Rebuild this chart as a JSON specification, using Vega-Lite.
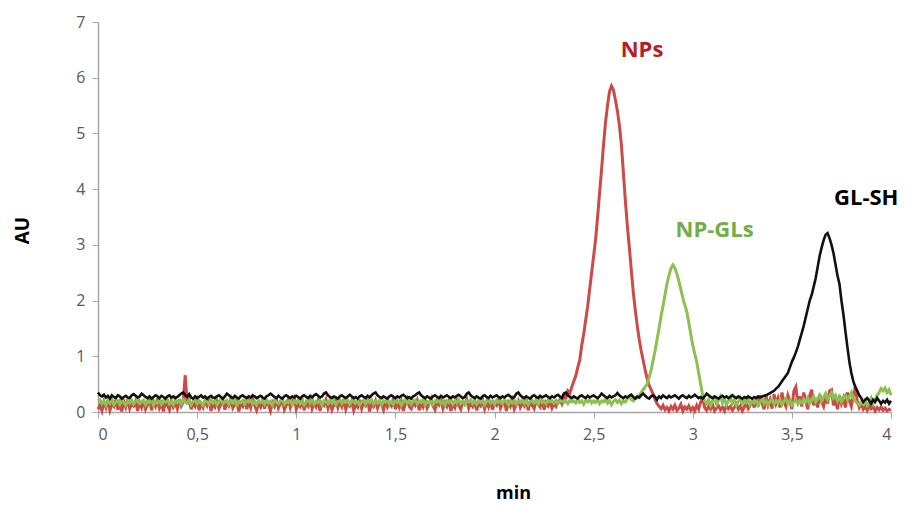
{
"$schema":"https://vega.github.io/schema/vega-lite/v6.json",
"width":793,"height":390,
"autosize":{"type":"none"},
"padding":{"left":98,"top":22,"right":23,"bottom":94},
"background":"white",
"config":{"view":{"stroke":null},"font":"Open Sans"},
"datasets":{
"trace":[
{"t":0.00,"r":0.05,"g":0.2,"k":0.35},{"t":0.01,"r":0.12,"g":0.22,"k":0.3},{"t":0.02,"r":0.02,"g":0.15,"k":0.28},{"t":0.03,"r":0.18,"g":0.19,"k":0.31},{"t":0.04,"r":0.08,"g":0.12,"k":0.26},{"t":0.05,"r":0.21,"g":0.21,"k":0.29},{"t":0.06,"r":0.03,"g":0.16,"k":0.24},{"t":0.07,"r":0.14,"g":0.23,"k":0.3},{"t":0.08,"r":0.1,"g":0.13,"k":0.27},{"t":0.09,"r":0.22,"g":0.18,"k":0.25},
{"t":0.10,"r":0.04,"g":0.2,"k":0.3},{"t":0.11,"r":0.16,"g":0.14,"k":0.28},{"t":0.12,"r":0.01,"g":0.22,"k":0.24},{"t":0.13,"r":0.19,"g":0.17,"k":0.27},{"t":0.14,"r":0.09,"g":0.12,"k":0.29},{"t":0.15,"r":0.23,"g":0.2,"k":0.26},{"t":0.16,"r":0.06,"g":0.16,"k":0.25},{"t":0.17,"r":0.15,"g":0.21,"k":0.3},{"t":0.18,"r":0.11,"g":0.14,"k":0.32},{"t":0.19,"r":0.2,"g":0.19,"k":0.29},
{"t":0.20,"r":0.02,"g":0.23,"k":0.26},{"t":0.21,"r":0.17,"g":0.15,"k":0.28},{"t":0.22,"r":0.08,"g":0.18,"k":0.33},{"t":0.23,"r":0.21,"g":0.21,"k":0.3},{"t":0.24,"r":0.05,"g":0.13,"k":0.27},{"t":0.25,"r":0.13,"g":0.2,"k":0.25},{"t":0.26,"r":0.24,"g":0.17,"k":0.28},{"t":0.27,"r":0.03,"g":0.22,"k":0.24},{"t":0.28,"r":0.18,"g":0.12,"k":0.27},{"t":0.29,"r":0.1,"g":0.19,"k":0.3},
{"t":0.30,"r":0.22,"g":0.16,"k":0.28},{"t":0.31,"r":0.07,"g":0.21,"k":0.25},{"t":0.32,"r":0.15,"g":0.14,"k":0.29},{"t":0.33,"r":0.01,"g":0.2,"k":0.27},{"t":0.34,"r":0.19,"g":0.18,"k":0.24},{"t":0.35,"r":0.12,"g":0.23,"k":0.28},{"t":0.36,"r":0.04,"g":0.15,"k":0.3},{"t":0.37,"r":0.2,"g":0.19,"k":0.26},{"t":0.38,"r":0.09,"g":0.13,"k":0.28},{"t":0.39,"r":0.16,"g":0.21,"k":0.25},
{"t":0.40,"r":0.06,"g":0.17,"k":0.27},{"t":0.41,"r":0.23,"g":0.2,"k":0.3},{"t":0.42,"r":0.11,"g":0.14,"k":0.33},{"t":0.43,"r":0.18,"g":0.22,"k":0.35},{"t":0.44,"r":0.66,"g":0.18,"k":0.3},{"t":0.45,"r":0.14,"g":0.16,"k":0.27},{"t":0.46,"r":0.22,"g":0.21,"k":0.32},{"t":0.47,"r":0.05,"g":0.13,"k":0.26},{"t":0.48,"r":0.17,"g":0.19,"k":0.24},{"t":0.49,"r":0.1,"g":0.22,"k":0.28},
{"t":0.50,"r":0.21,"g":0.15,"k":0.25},{"t":0.51,"r":0.03,"g":0.2,"k":0.27},{"t":0.52,"r":0.15,"g":0.17,"k":0.3},{"t":0.53,"r":0.08,"g":0.12,"k":0.26},{"t":0.54,"r":0.2,"g":0.21,"k":0.28},{"t":0.55,"r":0.12,"g":0.18,"k":0.24},{"t":0.56,"r":0.24,"g":0.14,"k":0.27},{"t":0.57,"r":0.02,"g":0.22,"k":0.29},{"t":0.58,"r":0.16,"g":0.16,"k":0.26},{"t":0.59,"r":0.09,"g":0.2,"k":0.25},
{"t":0.60,"r":0.19,"g":0.13,"k":0.28},{"t":0.61,"r":0.06,"g":0.19,"k":0.3},{"t":0.62,"r":0.14,"g":0.23,"k":0.27},{"t":0.63,"r":0.21,"g":0.15,"k":0.24},{"t":0.64,"r":0.04,"g":0.18,"k":0.28},{"t":0.65,"r":0.17,"g":0.21,"k":0.33},{"t":0.66,"r":0.11,"g":0.14,"k":0.3},{"t":0.67,"r":0.23,"g":0.2,"k":0.27},{"t":0.68,"r":0.07,"g":0.16,"k":0.25},{"t":0.69,"r":0.13,"g":0.22,"k":0.29},
{"t":0.70,"r":0.2,"g":0.12,"k":0.26},{"t":0.71,"r":0.01,"g":0.19,"k":0.24},{"t":0.72,"r":0.15,"g":0.17,"k":0.28},{"t":0.73,"r":0.1,"g":0.21,"k":0.3},{"t":0.74,"r":0.22,"g":0.14,"k":0.27},{"t":0.75,"r":0.05,"g":0.2,"k":0.25},{"t":0.76,"r":0.18,"g":0.18,"k":0.28},{"t":0.77,"r":0.08,"g":0.23,"k":0.26},{"t":0.78,"r":0.24,"g":0.15,"k":0.3},{"t":0.79,"r":0.12,"g":0.19,"k":0.28},
{"t":0.80,"r":0.03,"g":0.13,"k":0.25},{"t":0.81,"r":0.16,"g":0.21,"k":0.27},{"t":0.82,"r":0.09,"g":0.17,"k":0.29},{"t":0.83,"r":0.21,"g":0.2,"k":0.26},{"t":0.84,"r":0.06,"g":0.14,"k":0.24},{"t":0.85,"r":0.19,"g":0.22,"k":0.28},{"t":0.86,"r":0.13,"g":0.16,"k":0.3},{"t":0.87,"r":0.02,"g":0.19,"k":0.33},{"t":0.88,"r":0.17,"g":0.12,"k":0.3},{"t":0.89,"r":0.1,"g":0.21,"k":0.27},
{"t":0.90,"r":0.23,"g":0.18,"k":0.25},{"t":0.91,"r":0.07,"g":0.15,"k":0.29},{"t":0.92,"r":0.15,"g":0.2,"k":0.26},{"t":0.93,"r":0.2,"g":0.23,"k":0.24},{"t":0.94,"r":0.04,"g":0.14,"k":0.28},{"t":0.95,"r":0.12,"g":0.19,"k":0.3},{"t":0.96,"r":0.22,"g":0.17,"k":0.27},{"t":0.97,"r":0.08,"g":0.21,"k":0.25},{"t":0.98,"r":0.18,"g":0.13,"k":0.28},{"t":0.99,"r":0.25,"g":0.2,"k":0.26},
{"t":1.00,"r":0.05,"g":0.16,"k":0.29},{"t":1.01,"r":0.14,"g":0.22,"k":0.27},{"t":1.02,"r":0.1,"g":0.15,"k":0.24},{"t":1.03,"r":0.21,"g":0.2,"k":0.28},{"t":1.04,"r":0.03,"g":0.13,"k":0.3},{"t":1.05,"r":0.17,"g":0.18,"k":0.27},{"t":1.06,"r":0.11,"g":0.21,"k":0.25},{"t":1.07,"r":0.24,"g":0.16,"k":0.29},{"t":1.08,"r":0.06,"g":0.23,"k":0.26},{"t":1.09,"r":0.15,"g":0.14,"k":0.3},
{"t":1.10,"r":0.09,"g":0.19,"k":0.32},{"t":1.11,"r":0.2,"g":0.17,"k":0.29},{"t":1.12,"r":0.02,"g":0.21,"k":0.26},{"t":1.13,"r":0.16,"g":0.12,"k":0.28},{"t":1.14,"r":0.12,"g":0.2,"k":0.33},{"t":1.15,"r":0.22,"g":0.18,"k":0.35},{"t":1.16,"r":0.07,"g":0.15,"k":0.3},{"t":1.17,"r":0.18,"g":0.22,"k":0.27},{"t":1.18,"r":0.04,"g":0.16,"k":0.25},{"t":1.19,"r":0.13,"g":0.2,"k":0.28},
{"t":1.20,"r":0.21,"g":0.13,"k":0.26},{"t":1.21,"r":0.08,"g":0.19,"k":0.24},{"t":1.22,"r":0.19,"g":0.22,"k":0.28},{"t":1.23,"r":0.1,"g":0.15,"k":0.3},{"t":1.24,"r":0.23,"g":0.2,"k":0.27},{"t":1.25,"r":0.05,"g":0.17,"k":0.25},{"t":1.26,"r":0.16,"g":0.21,"k":0.28},{"t":1.27,"r":0.11,"g":0.14,"k":0.31},{"t":1.28,"r":0.2,"g":0.19,"k":0.28},{"t":1.29,"r":0.03,"g":0.23,"k":0.25},
{"t":1.30,"r":0.14,"g":0.16,"k":0.27},{"t":1.31,"r":0.09,"g":0.2,"k":0.24},{"t":1.32,"r":0.22,"g":0.13,"k":0.28},{"t":1.33,"r":0.06,"g":0.18,"k":0.3},{"t":1.34,"r":0.17,"g":0.21,"k":0.27},{"t":1.35,"r":0.12,"g":0.15,"k":0.25},{"t":1.36,"r":0.24,"g":0.2,"k":0.29},{"t":1.37,"r":0.01,"g":0.17,"k":0.26},{"t":1.38,"r":0.15,"g":0.22,"k":0.3},{"t":1.39,"r":0.1,"g":0.14,"k":0.33},
{"t":1.40,"r":0.2,"g":0.19,"k":0.35},{"t":1.41,"r":0.07,"g":0.16,"k":0.3},{"t":1.42,"r":0.18,"g":0.21,"k":0.27},{"t":1.43,"r":0.13,"g":0.13,"k":0.25},{"t":1.44,"r":0.04,"g":0.2,"k":0.28},{"t":1.45,"r":0.21,"g":0.18,"k":0.26},{"t":1.46,"r":0.09,"g":0.23,"k":0.24},{"t":1.47,"r":0.16,"g":0.15,"k":0.28},{"t":1.48,"r":0.11,"g":0.19,"k":0.3},{"t":1.49,"r":0.22,"g":0.14,"k":0.27},
{"t":1.50,"r":0.05,"g":0.21,"k":0.25},{"t":1.51,"r":0.17,"g":0.17,"k":0.28},{"t":1.52,"r":0.08,"g":0.2,"k":0.26},{"t":1.53,"r":0.19,"g":0.12,"k":0.29},{"t":1.54,"r":0.02,"g":0.18,"k":0.31},{"t":1.55,"r":0.14,"g":0.22,"k":0.28},{"t":1.56,"r":0.23,"g":0.16,"k":0.25},{"t":1.57,"r":0.1,"g":0.2,"k":0.27},{"t":1.58,"r":0.06,"g":0.14,"k":0.24},{"t":1.59,"r":0.18,"g":0.19,"k":0.28},
{"t":1.60,"r":0.12,"g":0.21,"k":0.3},{"t":1.61,"r":0.21,"g":0.15,"k":0.33},{"t":1.62,"r":0.03,"g":0.2,"k":0.35},{"t":1.63,"r":0.16,"g":0.17,"k":0.3},{"t":1.64,"r":0.09,"g":0.22,"k":0.27},{"t":1.65,"r":0.2,"g":0.13,"k":0.25},{"t":1.66,"r":0.07,"g":0.19,"k":0.28},{"t":1.67,"r":0.15,"g":0.16,"k":0.26},{"t":1.68,"r":0.24,"g":0.21,"k":0.24},{"t":1.69,"r":0.11,"g":0.14,"k":0.28},
{"t":1.70,"r":0.04,"g":0.2,"k":0.3},{"t":1.71,"r":0.19,"g":0.18,"k":0.27},{"t":1.72,"r":0.13,"g":0.23,"k":0.25},{"t":1.73,"r":0.22,"g":0.15,"k":0.29},{"t":1.74,"r":0.06,"g":0.19,"k":0.26},{"t":1.75,"r":0.17,"g":0.12,"k":0.28},{"t":1.76,"r":0.1,"g":0.2,"k":0.3},{"t":1.77,"r":0.2,"g":0.17,"k":0.27},{"t":1.78,"r":0.02,"g":0.21,"k":0.25},{"t":1.79,"r":0.15,"g":0.14,"k":0.28},
{"t":1.80,"r":0.08,"g":0.2,"k":0.26},{"t":1.81,"r":0.21,"g":0.16,"k":0.29},{"t":1.82,"r":0.12,"g":0.22,"k":0.31},{"t":1.83,"r":0.05,"g":0.15,"k":0.28},{"t":1.84,"r":0.18,"g":0.19,"k":0.25},{"t":1.85,"r":0.14,"g":0.13,"k":0.27},{"t":1.86,"r":0.23,"g":0.2,"k":0.33},{"t":1.87,"r":0.07,"g":0.18,"k":0.35},{"t":1.88,"r":0.16,"g":0.22,"k":0.3},{"t":1.89,"r":0.1,"g":0.15,"k":0.27},
{"t":1.90,"r":0.2,"g":0.19,"k":0.25},{"t":1.91,"r":0.03,"g":0.14,"k":0.28},{"t":1.92,"r":0.15,"g":0.21,"k":0.26},{"t":1.93,"r":0.11,"g":0.17,"k":0.24},{"t":1.94,"r":0.22,"g":0.2,"k":0.28},{"t":1.95,"r":0.06,"g":0.13,"k":0.3},{"t":1.96,"r":0.18,"g":0.19,"k":0.27},{"t":1.97,"r":0.09,"g":0.22,"k":0.25},{"t":1.98,"r":0.21,"g":0.16,"k":0.29},{"t":1.99,"r":0.04,"g":0.2,"k":0.26},
{"t":2.00,"r":0.16,"g":0.14,"k":0.28},{"t":2.01,"r":0.12,"g":0.21,"k":0.3},{"t":2.02,"r":0.24,"g":0.17,"k":0.27},{"t":2.03,"r":0.07,"g":0.2,"k":0.25},{"t":2.04,"r":0.14,"g":0.15,"k":0.28},{"t":2.05,"r":0.19,"g":0.22,"k":0.26},{"t":2.06,"r":0.02,"g":0.18,"k":0.29},{"t":2.07,"r":0.17,"g":0.13,"k":0.31},{"t":2.08,"r":0.1,"g":0.2,"k":0.28},{"t":2.09,"r":0.21,"g":0.16,"k":0.25},
{"t":2.10,"r":0.05,"g":0.21,"k":0.27},{"t":2.11,"r":0.13,"g":0.14,"k":0.33},{"t":2.12,"r":0.2,"g":0.19,"k":0.35},{"t":2.13,"r":0.08,"g":0.17,"k":0.3},{"t":2.14,"r":0.16,"g":0.22,"k":0.27},{"t":2.15,"r":0.11,"g":0.15,"k":0.25},{"t":2.16,"r":0.23,"g":0.2,"k":0.28},{"t":2.17,"r":0.03,"g":0.13,"k":0.26},{"t":2.18,"r":0.18,"g":0.19,"k":0.24},{"t":2.19,"r":0.12,"g":0.21,"k":0.28},
{"t":2.20,"r":0.06,"g":0.16,"k":0.3},{"t":2.21,"r":0.2,"g":0.2,"k":0.27},{"t":2.22,"r":0.14,"g":0.14,"k":0.25},{"t":2.23,"r":0.09,"g":0.22,"k":0.29},{"t":2.24,"r":0.22,"g":0.17,"k":0.26},{"t":2.25,"r":0.04,"g":0.19,"k":0.28},{"t":2.26,"r":0.17,"g":0.15,"k":0.3},{"t":2.27,"r":0.11,"g":0.21,"k":0.27},{"t":2.28,"r":0.2,"g":0.18,"k":0.25},{"t":2.29,"r":0.07,"g":0.2,"k":0.28},
{"t":2.30,"r":0.15,"g":0.16,"k":0.26},{"t":2.31,"r":0.1,"g":0.21,"k":0.29},{"t":2.32,"r":0.18,"g":0.15,"k":0.31},{"t":2.33,"r":0.22,"g":0.19,"k":0.28},{"t":2.34,"r":0.15,"g":0.22,"k":0.25},{"t":2.35,"r":0.3,"g":0.17,"k":0.33},{"t":2.36,"r":0.25,"g":0.2,"k":0.35},{"t":2.37,"r":0.38,"g":0.15,"k":0.3},{"t":2.38,"r":0.34,"g":0.21,"k":0.27},{"t":2.39,"r":0.45,"g":0.18,"k":0.25},
{"t":2.40,"r":0.55,"g":0.2,"k":0.28},{"t":2.41,"r":0.65,"g":0.16,"k":0.26},{"t":2.42,"r":0.8,"g":0.22,"k":0.24},{"t":2.43,"r":0.93,"g":0.17,"k":0.28},{"t":2.44,"r":1.2,"g":0.2,"k":0.3},{"t":2.45,"r":1.4,"g":0.14,"k":0.27},{"t":2.46,"r":1.65,"g":0.21,"k":0.25},{"t":2.47,"r":1.9,"g":0.18,"k":0.29},{"t":2.48,"r":2.2,"g":0.22,"k":0.26},{"t":2.49,"r":2.5,"g":0.16,"k":0.28},
{"t":2.50,"r":2.8,"g":0.2,"k":0.3},{"t":2.51,"r":3.1,"g":0.17,"k":0.27},{"t":2.52,"r":3.5,"g":0.22,"k":0.25},{"t":2.53,"r":3.93,"g":0.15,"k":0.28},{"t":2.54,"r":4.35,"g":0.2,"k":0.33},{"t":2.55,"r":4.8,"g":0.18,"k":0.3},{"t":2.56,"r":5.2,"g":0.23,"k":0.27},{"t":2.57,"r":5.5,"g":0.16,"k":0.25},{"t":2.58,"r":5.75,"g":0.2,"k":0.29},{"t":2.59,"r":5.85,"g":0.13,"k":0.26},
{"t":2.60,"r":5.78,"g":0.19,"k":0.28},{"t":2.61,"r":5.6,"g":0.22,"k":0.3},{"t":2.62,"r":5.4,"g":0.17,"k":0.34},{"t":2.63,"r":5.15,"g":0.21,"k":0.3},{"t":2.64,"r":4.8,"g":0.15,"k":0.27},{"t":2.65,"r":4.3,"g":0.2,"k":0.25},{"t":2.66,"r":3.8,"g":0.18,"k":0.28},{"t":2.67,"r":3.35,"g":0.24,"k":0.26},{"t":2.68,"r":2.96,"g":0.28,"k":0.29},{"t":2.69,"r":2.55,"g":0.22,"k":0.31},
{"t":2.70,"r":2.15,"g":0.2,"k":0.27},{"t":2.71,"r":1.83,"g":0.26,"k":0.24},{"t":2.72,"r":1.55,"g":0.25,"k":0.28},{"t":2.73,"r":1.3,"g":0.3,"k":0.26},{"t":2.74,"r":1.1,"g":0.35,"k":0.3},{"t":2.75,"r":0.93,"g":0.4,"k":0.33},{"t":2.76,"r":0.75,"g":0.45,"k":0.29},{"t":2.77,"r":0.6,"g":0.5,"k":0.26},{"t":2.78,"r":0.48,"g":0.62,"k":0.24},{"t":2.79,"r":0.4,"g":0.75,"k":0.28},
{"t":2.80,"r":0.32,"g":0.93,"k":0.3},{"t":2.81,"r":0.22,"g":1.1,"k":0.27},{"t":2.82,"r":0.15,"g":1.3,"k":0.22},{"t":2.83,"r":0.1,"g":1.5,"k":0.28},{"t":2.84,"r":0.06,"g":1.72,"k":0.25},{"t":2.85,"r":0.12,"g":1.9,"k":0.3},{"t":2.86,"r":0.04,"g":2.1,"k":0.27},{"t":2.87,"r":0.08,"g":2.3,"k":0.25},{"t":2.88,"r":0.02,"g":2.45,"k":0.29},{"t":2.89,"r":0.1,"g":2.58,"k":0.26},
{"t":2.90,"r":0.05,"g":2.64,"k":0.28},{"t":2.91,"r":0.12,"g":2.58,"k":0.3},{"t":2.92,"r":0.03,"g":2.48,"k":0.27},{"t":2.93,"r":0.07,"g":2.35,"k":0.24},{"t":2.94,"r":0.14,"g":2.2,"k":0.28},{"t":2.95,"r":0.02,"g":2.05,"k":0.3},{"t":2.96,"r":0.09,"g":1.92,"k":0.27},{"t":2.97,"r":0.05,"g":1.8,"k":0.25},{"t":2.98,"r":0.11,"g":1.6,"k":0.29},{"t":2.99,"r":0.03,"g":1.4,"k":0.26},
{"t":3.00,"r":0.08,"g":1.2,"k":0.28},{"t":3.01,"r":0.02,"g":1.05,"k":0.31},{"t":3.02,"r":0.12,"g":0.9,"k":0.28},{"t":3.03,"r":0.05,"g":0.7,"k":0.25},{"t":3.04,"r":0.18,"g":0.5,"k":0.27},{"t":3.05,"r":0.25,"g":0.3,"k":0.24},{"t":3.06,"r":0.08,"g":0.2,"k":0.28},{"t":3.07,"r":0.03,"g":0.15,"k":0.33},{"t":3.08,"r":0.1,"g":0.22,"k":0.3},{"t":3.09,"r":0.05,"g":0.12,"k":0.27},
{"t":3.10,"r":0.13,"g":0.2,"k":0.25},{"t":3.11,"r":0.02,"g":0.25,"k":0.28},{"t":3.12,"r":0.07,"g":0.14,"k":0.26},{"t":3.13,"r":0.11,"g":0.21,"k":0.24},{"t":3.14,"r":0.04,"g":0.28,"k":0.27},{"t":3.15,"r":0.09,"g":0.16,"k":0.29},{"t":3.16,"r":0.02,"g":0.23,"k":0.26},{"t":3.17,"r":0.12,"g":0.13,"k":0.28},{"t":3.18,"r":0.06,"g":0.2,"k":0.25},{"t":3.19,"r":0.1,"g":0.27,"k":0.27},
{"t":3.20,"r":0.03,"g":0.15,"k":0.3},{"t":3.21,"r":0.08,"g":0.22,"k":0.27},{"t":3.22,"r":0.14,"g":0.12,"k":0.25},{"t":3.23,"r":0.05,"g":0.19,"k":0.28},{"t":3.24,"r":0.11,"g":0.25,"k":0.26},{"t":3.25,"r":0.02,"g":0.14,"k":0.24},{"t":3.26,"r":0.09,"g":0.21,"k":0.27},{"t":3.27,"r":0.15,"g":0.17,"k":0.25},{"t":3.28,"r":0.06,"g":0.23,"k":0.28},{"t":3.29,"r":0.12,"g":0.13,"k":0.26},
{"t":3.30,"r":0.2,"g":0.2,"k":0.24},{"t":3.31,"r":0.08,"g":0.16,"k":0.27},{"t":3.32,"r":0.25,"g":0.22,"k":0.25},{"t":3.33,"r":0.1,"g":0.12,"k":0.28},{"t":3.34,"r":0.3,"g":0.18,"k":0.26},{"t":3.35,"r":0.15,"g":0.24,"k":0.28},{"t":3.36,"r":0.05,"g":0.15,"k":0.29},{"t":3.37,"r":0.28,"g":0.2,"k":0.3},{"t":3.38,"r":0.12,"g":0.13,"k":0.32},{"t":3.39,"r":0.22,"g":0.19,"k":0.34},
{"t":3.40,"r":0.06,"g":0.23,"k":0.36},{"t":3.41,"r":0.32,"g":0.14,"k":0.38},{"t":3.42,"r":0.15,"g":0.2,"k":0.42},{"t":3.43,"r":0.25,"g":0.16,"k":0.45},{"t":3.44,"r":0.08,"g":0.22,"k":0.5},{"t":3.45,"r":0.35,"g":0.13,"k":0.55},{"t":3.46,"r":0.18,"g":0.19,"k":0.6},{"t":3.47,"r":0.1,"g":0.24,"k":0.65},{"t":3.48,"r":0.3,"g":0.15,"k":0.7},{"t":3.49,"r":0.2,"g":0.2,"k":0.8},
{"t":3.50,"r":0.05,"g":0.12,"k":0.9},{"t":3.51,"r":0.38,"g":0.18,"k":0.98},{"t":3.52,"r":0.45,"g":0.22,"k":1.07},{"t":3.53,"r":0.15,"g":0.14,"k":1.17},{"t":3.54,"r":0.28,"g":0.2,"k":1.3},{"t":3.55,"r":0.1,"g":0.16,"k":1.42},{"t":3.56,"r":0.35,"g":0.23,"k":1.55},{"t":3.57,"r":0.2,"g":0.18,"k":1.7},{"t":3.58,"r":0.05,"g":0.25,"k":1.85},{"t":3.59,"r":0.3,"g":0.15,"k":2.0},
{"t":3.60,"r":0.4,"g":0.21,"k":2.1},{"t":3.61,"r":0.12,"g":0.28,"k":2.25},{"t":3.62,"r":0.25,"g":0.18,"k":2.4},{"t":3.63,"r":0.08,"g":0.24,"k":2.6},{"t":3.64,"r":0.32,"g":0.3,"k":2.8},{"t":3.65,"r":0.18,"g":0.2,"k":2.95},{"t":3.66,"r":0.1,"g":0.26,"k":3.08},{"t":3.67,"r":0.28,"g":0.33,"k":3.18},{"t":3.68,"r":0.15,"g":0.22,"k":3.21},{"t":3.69,"r":0.38,"g":0.28,"k":3.12},
{"t":3.70,"r":0.4,"g":0.35,"k":3.0},{"t":3.71,"r":0.12,"g":0.25,"k":2.85},{"t":3.72,"r":0.22,"g":0.3,"k":2.65},{"t":3.73,"r":0.05,"g":0.2,"k":2.45},{"t":3.74,"r":0.3,"g":0.27,"k":2.3},{"t":3.75,"r":0.15,"g":0.18,"k":2.0},{"t":3.76,"r":0.25,"g":0.24,"k":1.75},{"t":3.77,"r":0.08,"g":0.3,"k":1.45},{"t":3.78,"r":0.35,"g":0.22,"k":1.17},{"t":3.79,"r":0.2,"g":0.28,"k":0.9},
{"t":3.80,"r":0.1,"g":0.35,"k":0.7},{"t":3.81,"r":0.3,"g":0.25,"k":0.55},{"t":3.82,"r":0.45,"g":0.2,"k":0.45},{"t":3.83,"r":0.2,"g":0.15,"k":0.38},{"t":3.84,"r":0.08,"g":0.12,"k":0.3},{"t":3.85,"r":0.15,"g":0.18,"k":0.25},{"t":3.86,"r":0.05,"g":0.14,"k":0.18},{"t":3.87,"r":0.1,"g":0.2,"k":0.22},{"t":3.88,"r":0.03,"g":0.12,"k":0.25},{"t":3.89,"r":0.12,"g":0.18,"k":0.2},
{"t":3.90,"r":0.06,"g":0.25,"k":0.15},{"t":3.91,"r":0.1,"g":0.15,"k":0.22},{"t":3.92,"r":0.02,"g":0.22,"k":0.18},{"t":3.93,"r":0.08,"g":0.3,"k":0.25},{"t":3.94,"r":0.04,"g":0.35,"k":0.2},{"t":3.95,"r":0.09,"g":0.42,"k":0.15},{"t":3.96,"r":0.03,"g":0.38,"k":0.2},{"t":3.97,"r":0.07,"g":0.43,"k":0.17},{"t":3.98,"r":0.02,"g":0.35,"k":0.22},{"t":3.99,"r":0.05,"g":0.4,"k":0.15},
{"t":4.00,"r":0.03,"g":0.3,"k":0.2}
],
"labels":[
{"t":2.744,"v":6.5,"label":"NPs"},
{"t":3.11,"v":3.27,"label":"NP-GLs"},
{"t":3.875,"v":3.84,"label":"GL-SH"}
]
},
"layer":[
{"data":{"name":"trace"},"mark":{"type":"line","color":"#cc4a48","strokeWidth":3},
 "encoding":{
  "x":{"field":"t","type":"quantitative","scale":{"domain":[0,4],"nice":false,"zero":false},
   "axis":{"values":[0,0.5,1,1.5,2,2.5,3,3.5,4],"labelExpr":"replace(format(datum.value,'~g'),'.',',')","grid":false,"domainColor":"#a6a6a6","tickColor":"#a6a6a6","tickSize":6,"domainWidth":1.5,"labelColor":"#595959","labelFontSize":16,"labelFont":"Open Sans","labelPadding":8,
    "title":"min","titleFont":"Open Sans","titleFontSize":18,"titleFontWeight":"bold","titleColor":"#000000","titleX":415,"titleY":81,"titleBaseline":"middle","titleAlign":"center"}},
  "y":{"field":"r","type":"quantitative","scale":{"domain":[0,7],"nice":false},
   "axis":{"values":[0,1,2,3,4,5,6,7],"format":"d","grid":false,"domainColor":"#a6a6a6","tickColor":"#a6a6a6","tickSize":6,"domainWidth":1.5,"labelColor":"#595959","labelFontSize":16,"labelFont":"Open Sans","labelPadding":7,
    "title":"AU","titleFont":"Open Sans","titleFontSize":19,"titleFontWeight":"bold","titleColor":"#000000","titleX":-76,"titleY":208,"titleAngle":-90,"titleBaseline":"middle","titleAlign":"center"}}
 }},
{"data":{"name":"trace"},"mark":{"type":"line","color":"#8dc050","strokeWidth":3},
 "encoding":{"x":{"field":"t","type":"quantitative"},"y":{"field":"g","type":"quantitative"}}},
{"data":{"name":"trace"},"mark":{"type":"line","color":"#111111","strokeWidth":2.6},
 "encoding":{"x":{"field":"t","type":"quantitative"},"y":{"field":"k","type":"quantitative"}}},
{"data":{"name":"labels"},"mark":{"type":"text","font":"Open Sans","fontSize":22,"fontWeight":"bold","baseline":"middle","align":"center"},
 "encoding":{"x":{"field":"t","type":"quantitative"},"y":{"field":"v","type":"quantitative"},"text":{"field":"label"},
  "color":{"field":"label","type":"nominal","scale":{"domain":["NPs","NP-GLs","GL-SH"],"range":["#b81d24","#72ad48","#000000"]},"legend":null}}}
]
}
